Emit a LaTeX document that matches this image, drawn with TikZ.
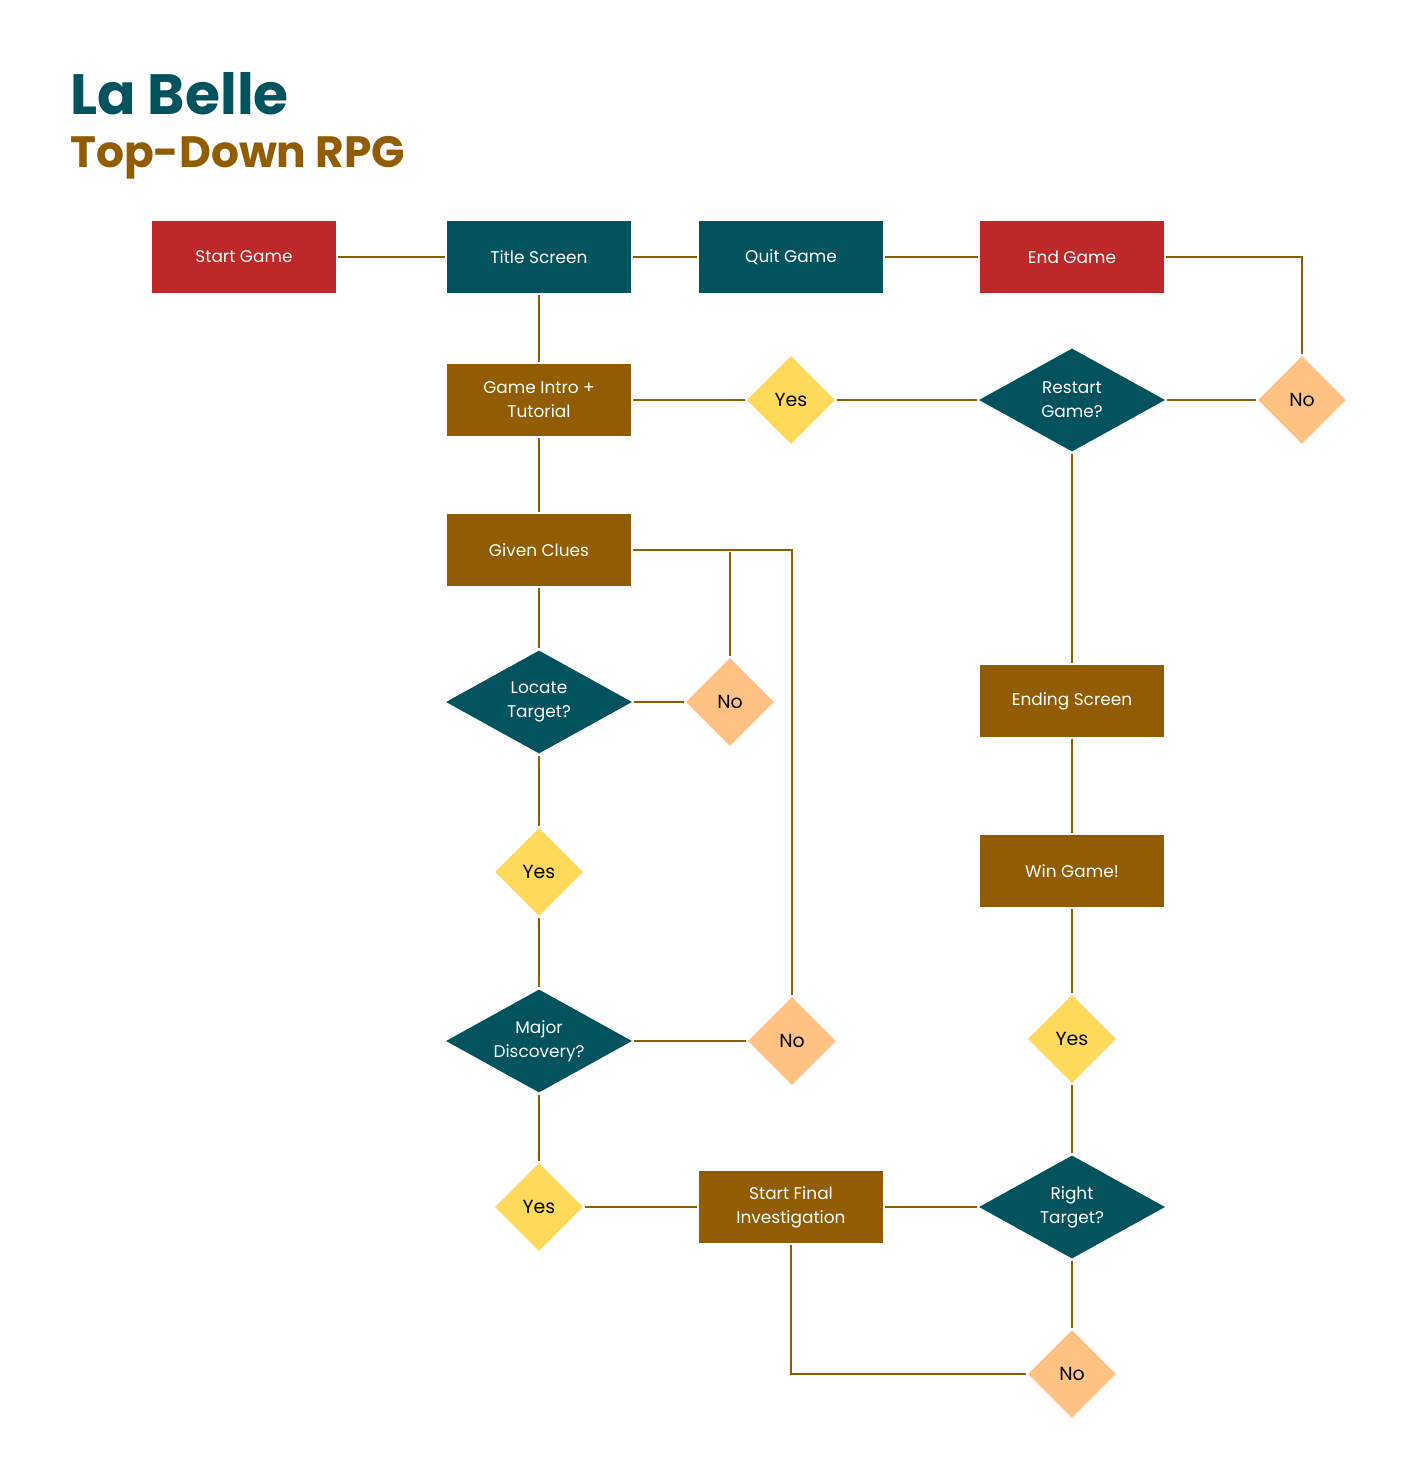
\documentclass[tikz,border=0pt]{standalone}
\usepackage{fontspec}
\setmainfont{Poppins}
\usetikzlibrary{shapes.geometric, calc}

\definecolor{belleRed}{RGB}{190,40,40}
\definecolor{belleTeal}{RGB}{2,83,93}
\definecolor{belleBrown}{RGB}{145,92,2}
\definecolor{belleYellow}{RGB}{255,217,90}
\definecolor{bellePeach}{RGB}{255,194,131}

\begin{document}
\begin{tikzpicture}[
      x=1bp, y=-1bp,
      boxbase/.style={rectangle, minimum width=184bp, minimum height=72bp, inner sep=0pt, align=center, text=white, font=\fontsize{17}{24}\selectfont},
      startend/.style={boxbase, fill=belleRed},
      screen/.style={boxbase, fill=belleTeal},
      process/.style={boxbase, fill=belleBrown},
      question/.style={diamond, shape aspect=1.8, fill=belleTeal, minimum width=186bp, minimum height=103bp, inner sep=0pt, align=center, text=white, font=\fontsize{17}{24}\selectfont},
      yesnode/.style={diamond, fill=belleYellow, minimum width=88bp, minimum height=88bp, inner sep=0pt, font=\fontsize{19}{22}\selectfont},
      nonode/.style={yesnode, fill=bellePeach},
      link/.style={draw=belleBrown, line width=1.2bp, shorten <=2bp, shorten >=2bp}
    ]

    % Page
    \useasboundingbox[fill=white] (0, 0) rectangle (1416, 1480);

    % Title
    \node[anchor=base west, inner sep=0pt, text=belleTeal, font=\fontsize{57}{60}\selectfont\bfseries] (title) at (70, 115) {La Belle};
    \node[anchor=base west, inner sep=0pt, text=belleBrown, font=\fontsize{44}{48}\selectfont\bfseries] (subtitle) at (70, 168) {Top-Down RPG};

    % Top row
    \node[startend] (start) at (244, 257) {Start Game};
    \node[screen] (titlescreen) at (539, 257) {Title Screen};
    \node[screen] (quit) at (791, 257) {Quit Game};
    \node[startend] (endgame) at (1072, 257) {End Game};

    % Left column
    \node[process] (intro) at (539, 400) {Game Intro +\\Tutorial};
    \node[process] (clues) at (539, 550) {Given Clues};
    \node[question] (locate) at (539, 702) {Locate\\Target?};
    \node[nonode] (locateno) at (730, 702) {No};
    \node[yesnode] (locateyes) at (539, 872) {Yes};
    \node[question] (major) at (539, 1041) {Major\\Discovery?};
    \node[nonode] (majorno) at (792, 1041) {No};
    \node[yesnode] (majoryes) at (539, 1207) {Yes};
    \node[process] (final) at (791, 1207) {Start Final\\Investigation};

    % Right column
    \node[yesnode] (restartyes) at (791, 400) {Yes};
    \node[question] (restart) at (1072, 400) {Restart\\Game?};
    \node[nonode] (restartno) at (1302, 400) {No};
    \node[process] (ending) at (1072, 701) {Ending Screen};
    \node[process] (win) at (1072, 871) {Win Game!};
    \node[yesnode] (rightyes) at (1072, 1039) {Yes};
    \node[question] (right) at (1072, 1207) {Right\\Target?};
    \node[nonode] (rightno) at (1072, 1374) {No};

    % Connectors, top row
    \draw[link] (start) -- (titlescreen);
    \draw[link] (titlescreen) -- (quit);
    \draw[link] (quit) -- (endgame);
    \draw[link] (endgame.east) -- (restartno.north |- endgame.east) -- (restartno.north);

    % Connectors, left column
    \draw[link] (titlescreen) -- (intro);
    \draw[link] (intro) -- (clues);
    \draw[link] (clues) -- (locate);
    \draw[link] (locate) -- (locateyes);
    \draw[link] (locateyes) -- (major);
    \draw[link] (major) -- (majoryes);
    \draw[link] (locate.east) -- (locateno.west);
    \draw[link] (locateno.north) -- (locateno.north |- clues.east);
    \draw[link] (clues.east) -- (majorno.north |- clues.east) -- (majorno.north);
    \draw[link] (major.east) -- (majorno.west);
    \draw[link] (majoryes.east) -- (final.west);

    % Connectors, right column
    \draw[link] (intro.east) -- (restartyes.west);
    \draw[link] (restartyes.east) -- (restart.west);
    \draw[link] (restart.east) -- (restartno.west);
    \draw[link] (restart) -- (ending);
    \draw[link] (ending) -- (win);
    \draw[link] (win) -- (rightyes);
    \draw[link] (rightyes) -- (right);
    \draw[link] (final.east) -- (right.west);
    \draw[link] (right) -- (rightno);
    \draw[link] (rightno.west) -- (final.south |- rightno.west) -- (final.south);

  \end{tikzpicture}
\end{document}
